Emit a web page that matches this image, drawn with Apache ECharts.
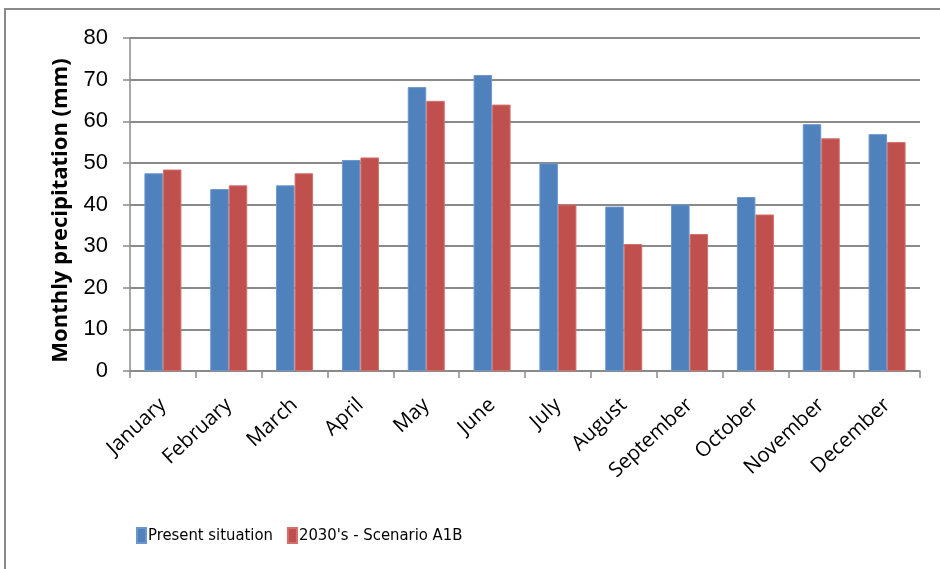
<!DOCTYPE html>
<html>
<head>
<meta charset="utf-8">
<script src="https://cdn.jsdelivr.net/npm/echarts@6/dist/echarts.min.js"></script>
<style>
  html, body { margin: 0; padding: 0; background: #fff; }
  #chart { width: 940px; height: 569px; }
</style>
</head>
<body>
<div id="chart"></div>
<script>
// Monthly precipitation (mm): present vs 2030's scenario A1B
const months = ['January', 'February', 'March', 'April', 'May', 'June',
  'July', 'August', 'September', 'October', 'November', 'December'];
const presentSituation = [47.5, 43.7, 44.6, 50.7, 68.2, 71.1, 49.9, 39.5, 40.0, 41.8, 59.3, 56.9];
const scenarioA1B = [48.4, 44.6, 47.5, 51.3, 64.9, 64.0, 40.0, 30.5, 32.9, 37.6, 55.9, 55.0];
const seriesNames = ['Present situation', "2030's - Scenario A1B"];

const narrowFont = "'DejaVu Sans Condensed', 'Liberation Sans Narrow', 'Liberation Sans', sans-serif";

const chart = echarts.init(document.getElementById('chart'));
chart.setOption({
  animation: false,
  backgroundColor: '#fff',
  graphic: [{
    type: 'rect',
    shape: { x: 5, y: 9, width: 960, height: 600 },
    style: { fill: 'none', stroke: '#8a8a8a', lineWidth: 2 },
    silent: true
  }],
  grid: { left: 130, right: 20, top: 38, bottom: 198 },
  legend: {
    data: seriesNames,
    left: 131,
    top: 522,
    itemWidth: 9,
    itemHeight: 15,
    itemGap: 14,
    icon: 'rect',
    textStyle: { fontFamily: narrowFont, fontSize: 16.5, color: '#000', padding: [0, 0, 0, -3] }
  },
  xAxis: {
    type: 'category',
    data: months,
    axisLine: { lineStyle: { color: '#8a8a8a', width: 1.5 } },
    axisTick: { show: true, length: 7, lineStyle: { color: '#8a8a8a', width: 1.5 } },
    axisLabel: {
      rotate: 43,
      margin: 31,
      fontFamily: "'Open Sans', 'DejaVu Sans', sans-serif",
      fontSize: 20.5,
      color: '#000'
    }
  },
  yAxis: {
    type: 'value',
    min: 0,
    max: 80,
    interval: 10,
    name: 'Monthly precipitation (mm)',
    nameLocation: 'middle',
    nameGap: 58,
    nameRotate: 90,
    nameTextStyle: {
      fontFamily: "'Open Sans', 'DejaVu Sans', sans-serif",
      fontWeight: 'bold',
      fontSize: 22,
      color: '#000',
      padding: [0, 12, 0, 0]
    },
    axisLine: { show: true, lineStyle: { color: '#8a8a8a', width: 1.5 } },
    axisTick: { show: true, length: 7, lineStyle: { color: '#8a8a8a', width: 1.5 } },
    axisLabel: {
      margin: 22,
      fontFamily: "'Liberation Sans', sans-serif",
      fontSize: 22,
      color: '#000'
    },
    splitLine: { lineStyle: { color: '#8a8a8a', width: 2 } }
  },
  series: [
    {
      name: seriesNames[0],
      type: 'bar',
      data: presentSituation,
      barWidth: 18.5,
      barGap: '0%',
      itemStyle: { color: '#4f81bd', borderColor: '#6b96cc', borderWidth: 1 }
    },
    {
      name: seriesNames[1],
      type: 'bar',
      data: scenarioA1B,
      barWidth: 18.5,
      barGap: '0%',
      itemStyle: { color: '#c0504d', borderColor: '#d36f6c', borderWidth: 1 }
    }
  ]
});
</script>
</body>
</html>
